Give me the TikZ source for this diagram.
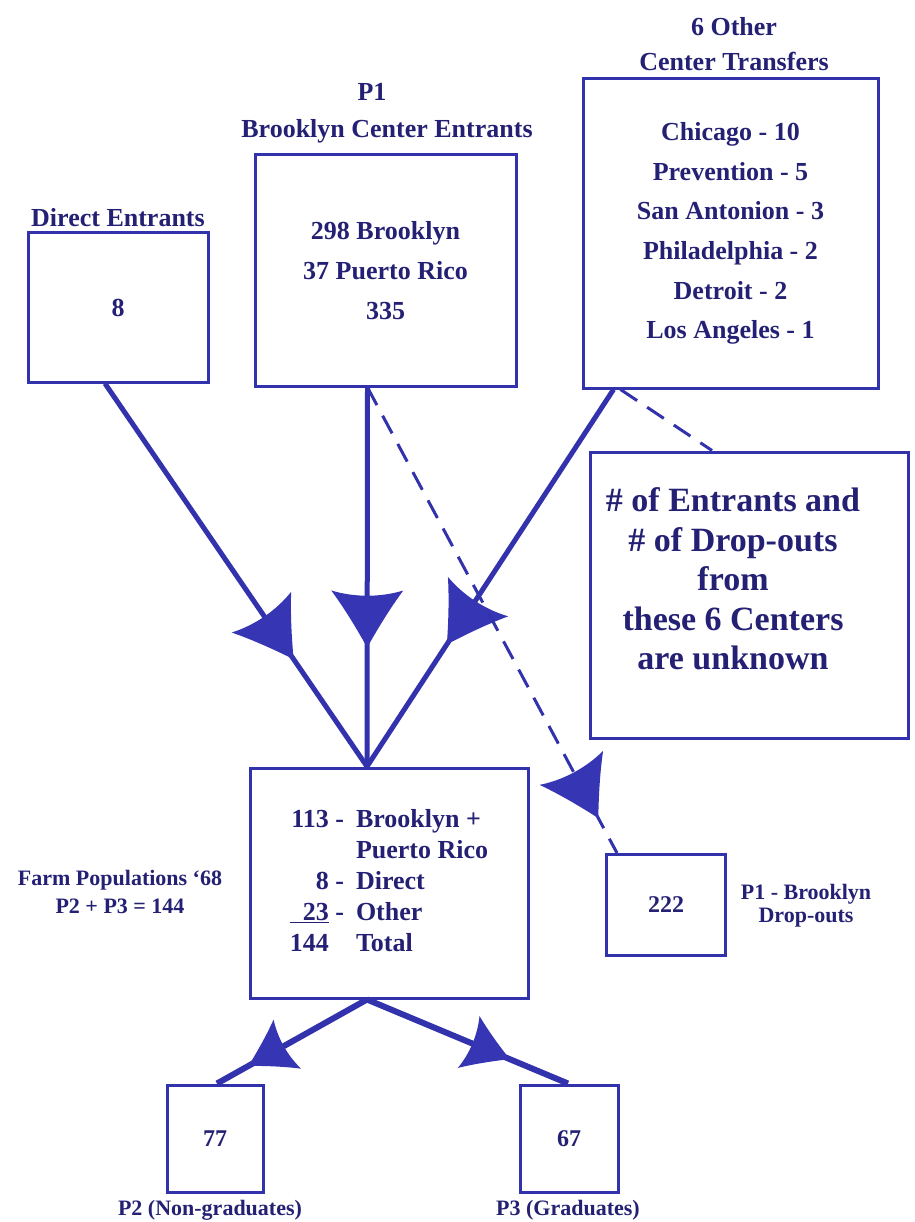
\documentclass[tikz,border=0pt]{standalone}
\usepackage{fontspec}
\setmainfont{Liberation Serif}
\usetikzlibrary{decorations.markings}
\definecolor{ln}{RGB}{50,50,172}
\definecolor{tx}{RGB}{36,32,116}
\definecolor{hd}{RGB}{54,54,180}
\newcommand\mybarb[1]{\fill[hd,scale=#1] (0,0) .. controls (-25,14) and (-42,25) .. (-57,36) .. controls (-50,13) and (-50,-13) .. (-57,-36) .. controls (-42,-25) and (-25,-14) .. (0,0) -- cycle;}
\tikzset{
  box/.style={draw=ln, line width=3pt, inner sep=0pt, text=tx, align=center,
    font=\bfseries\fontsize{26}{39.6}\selectfont},
  lbl/.style={text=tx, inner sep=0pt, align=center,
    font=\bfseries\fontsize{26}{35}\selectfont},
  flow/.style={draw=ln, line width=5pt},
  dsh/.style={draw=ln, line width=3pt, dash pattern=on 20pt off 12pt},
  barbat/.style={postaction={decorate,decoration={markings,mark=at position #1 with {\mybarb{1}}}}},
  barbsm/.style={postaction={decorate,decoration={markings,mark=at position #1 with {\mybarb{0.78}}}}}
}
\begin{document}
\begin{tikzpicture}[x=1pt,y=-1pt]
\useasboundingbox[fill=white] (0,0) rectangle (914,1222);
% boxes
\node[box, minimum width=180pt, minimum height=149pt] (dir) at (118,307.5) {8};
\node[box, minimum width=261pt, minimum height=231pt,
  font=\bfseries\fontsize{26}{40}\selectfont] (mid) at (385.5,270.5)
  {298 Brooklyn\\37 Puerto Rico\\335};
\node[box, minimum width=295pt, minimum height=309pt] (oth) at (730.5,233.5)
  {Chicago - 10\\Prevention - 5\\San Antonion - 3\\Philadelphia - 2\\Detroit - 2\\Los Angeles - 1};
\node[box, minimum width=318pt, minimum height=286pt] (note) at (749,595) {};
\node[lbl, font=\bfseries\fontsize{34}{39.5}\selectfont] (notetxt) at (733,579)
  {\# of Entrants and\\\# of Drop-outs\\from\\these 6 Centers\\are unknown};
\node[box, minimum width=278pt, minimum height=230pt,
  font=\bfseries\fontsize{26}{31}\selectfont] (tot) at (389,883)
  {\begin{tabular}{@{}r@{\ }l@{\hspace{12pt}}l@{}}
   113 & - & Brooklyn +\\
       &   & Puerto Rico\\
   8   & - & Direct\\
   \underline{\hphantom{1}23} & - & Other\\
   144 &   & Total
   \end{tabular}};
\node[box, minimum width=119pt, minimum height=101pt,
  font=\bfseries\fontsize{24}{28}\selectfont] (drop) at (666,905) {222};
\node[box, minimum width=96pt, minimum height=107pt,
  font=\bfseries\fontsize{24}{28}\selectfont] (n77) at (215,1138.5) {77};
\node[box, minimum width=98pt, minimum height=107pt,
  font=\bfseries\fontsize{24}{28}\selectfont] (n67) at (569,1138.5) {67};
% labels
\node[lbl] (othl) at (734,44.5) {6 Other\\Center Transfers};
\node[lbl] (p1) at (372,92) {P1};
\node[lbl] (p1l) at (387,131) {Brooklyn Center Entrants};
\node[lbl] (dirl) at (118,218) {Direct Entrants};
\node[lbl, font=\bfseries\fontsize{22}{28}\selectfont] (farm) at (120,892)
  {Farm Populations ‘68\\P2 + P3 = 144};
\node[lbl, font=\bfseries\fontsize{22}{23}\selectfont] (dropl) at (806,906)
  {P1 - Brooklyn\\Drop-outs};
\node[lbl, font=\bfseries\fontsize{22}{26}\selectfont] (p2l) at (210,1210) {P2 (Non-graduates)};
\node[lbl, font=\bfseries\fontsize{22}{26}\selectfont] (p3l) at (568,1210) {P3 (Graduates)};
% connectors
\draw[flow, barbat=0.72] ([xshift=-13pt]dir.south) -- ([xshift=-22pt]tot.north);
\draw[flow, barbat=0.686] ([xshift=-18pt]mid.south) -- ([xshift=-22pt]tot.north);
\draw[flow, barbat=0.676] ([xshift=-117pt]oth.south) -- ([xshift=-22pt]tot.north);
\draw[dsh, barbat=0.925] ([xshift=-18pt]mid.south) -- ([xshift=-49pt]drop.north);
\draw[dsh] ([xshift=-110pt]oth.south) -- ([xshift=-37pt]note.north);
\draw[flow, line width=6pt, barbsm=0.79] ([xshift=-22pt]tot.south) -- ([xshift=2pt]n77.north);
\draw[flow, line width=6pt, barbsm=0.71] ([xshift=-22pt]tot.south) -- ([xshift=-1pt]n67.north);
\end{tikzpicture}
\end{document}
